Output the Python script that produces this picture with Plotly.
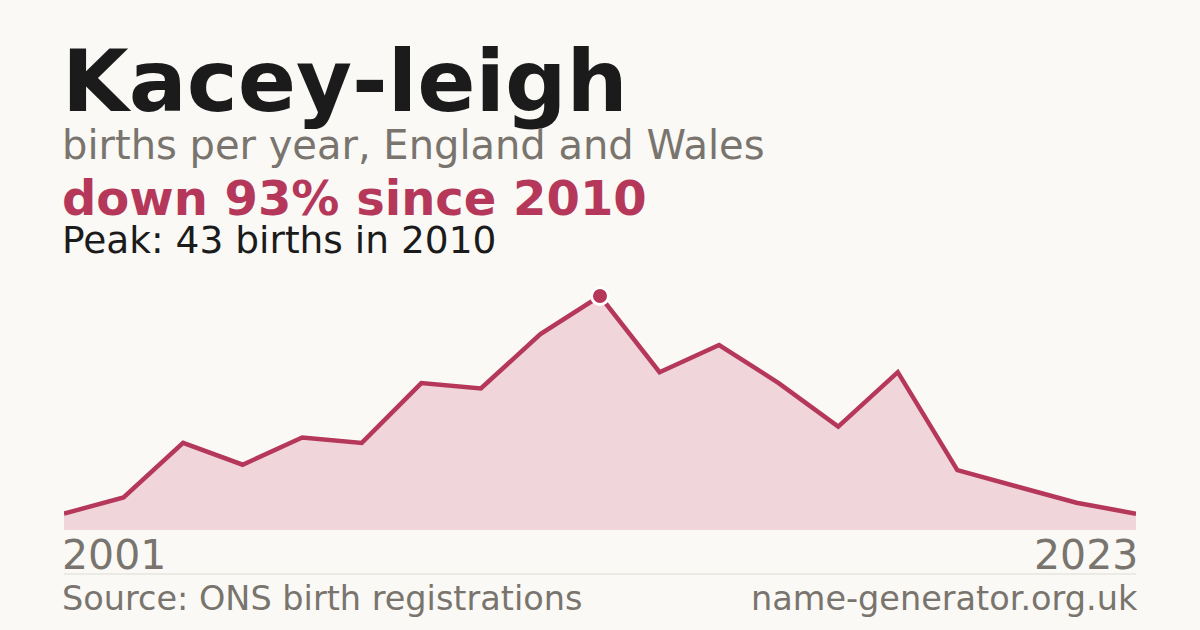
import plotly.graph_objects as go

# births per year (years with recorded counts)
years = ["2001", "2002", "2003", "2004", "2005", "2006", "2007", "2008", "2009", "2010",
         "2011", "2012", "2013", "2014", "2015", "2017", "2019", "2021", "2023"]
births = [3, 6, 16, 12, 17, 16, 27, 26, 36, 43, 29, 34, 27, 19, 29, 11, 8, 5, 3]

peak_year = "2010"
peak_value = 43

BG = "#faf9f5"
ACCENT = "#b5385a"
FILL = "#f0d5db"
GREY = "#79746d"
INK = "#1b1b1b"
FONT = "DejaVu Sans"

# plot area spans pixel y 296 (top) .. 530 (bottom), x 64 .. 1136
PLOT_TOP, PLOT_BOTTOM = 296, 530
PLOT_W = 1200 - 2 * 64
NUDGE = 3 / PLOT_W  # annotation padding offset


def py(p):
    """pixel row -> paper y"""
    return (PLOT_BOTTOM - p) / (PLOT_BOTTOM - PLOT_TOP)


fig = go.Figure()
fig.add_trace(go.Scatter(
    x=list(range(len(years))), y=births,
    mode="lines",
    fill="tozeroy",
    fillcolor=FILL,
    line=dict(color=ACCENT, width=4.5),
    customdata=years,
    hoverinfo="skip",
))
peak_idx = years.index(peak_year)
fig.add_trace(go.Scatter(
    x=[peak_idx], y=[peak_value],
    mode="markers",
    marker=dict(color=ACCENT, size=17, line=dict(color="white", width=3)),
    cliponaxis=False,
    hoverinfo="skip",
))


def note(text, y, size, color, right=False, weight="normal"):
    fig.add_annotation(
        text=text, x=1 + NUDGE if right else -NUDGE, y=py(y),
        xref="paper", yref="paper",
        xanchor="right" if right else "left", yanchor="middle",
        showarrow=False, borderpad=0,
        font=dict(family=FONT, size=size, color=color, weight=weight),
    )


note("Kacey-leigh", 81.5, 86, INK, weight="bold")
note("births per year, England and Wales", 144.5, 40, GREY)
note("down 93% since 2010", 197.5, 48, ACCENT, weight="bold")
note("Peak: 43 births in 2010", 240, 37.5, INK)
note(years[0], 555, 41, GREY)
note(years[-1], 555, 41, GREY, right=True)
note("Source: ONS birth registrations", 598, 33.5, GREY)
note("name-generator.org.uk", 598, 33.5, GREY, right=True)

fig.add_shape(type="line", xref="paper", yref="paper",
              x0=0, x1=1, y0=py(574), y1=py(574),
              line=dict(color="#dedbd4", width=1))

fig.update_layout(
    width=1200, height=630,
    paper_bgcolor=BG, plot_bgcolor=BG,
    margin=dict(l=64, r=64, t=PLOT_TOP, b=630 - PLOT_BOTTOM),
    showlegend=False,
    xaxis=dict(visible=False, range=[0, len(years) - 1], fixedrange=True),
    yaxis=dict(visible=False, range=[0, peak_value], fixedrange=True),
)

# drop the default page margin so the figure sits at the window's corner
fig.write_html("out.html", config={"displayModeBar": False},
               post_script="document.body.style.margin='0';document.body.style.overflow='hidden';")
